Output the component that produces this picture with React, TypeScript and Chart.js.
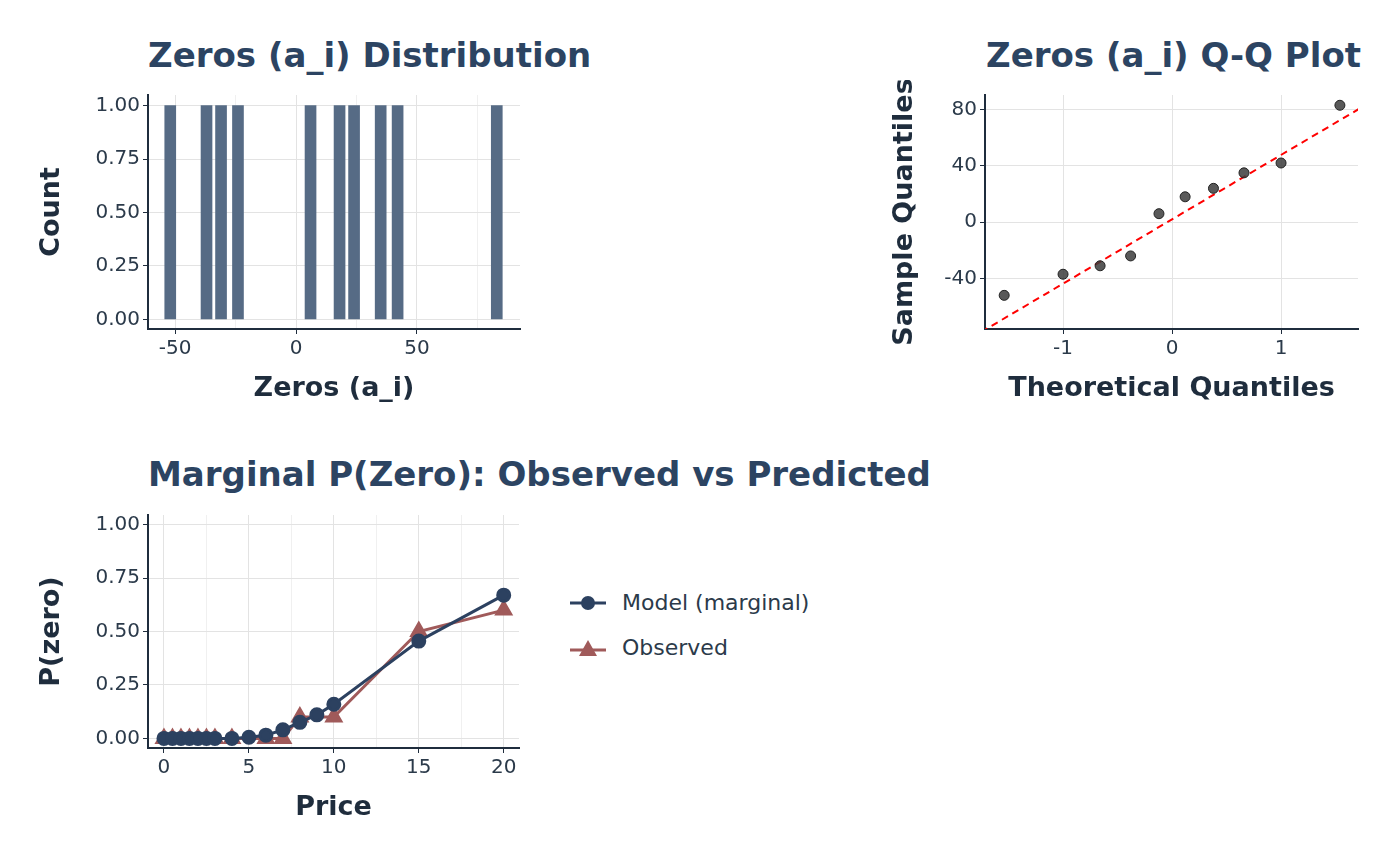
import React, { useEffect, useRef } from "react";
import { Chart, registerables } from "chart.js";
Chart.register(...registerables);

const zeros = [-52, -37, -31, -24, 6, 18, 24, 35, 42, 83];
const counts = [1, 1, 1, 1, 1, 1, 1, 1, 1, 1];
const theoretical = [-1.54, -1.0, -0.66, -0.38, -0.12, 0.12, 0.38, 0.66, 1.0, 1.54];
const refLineX = [-1.75, 1.75];
const refLineY = [-78, 82];
const modelPrice = [0, 0.5, 1, 1.5, 2, 2.5, 3, 4, 5, 6, 7, 8, 9, 10, 15, 20];
const modelP = [0, 0, 0, 0, 0, 0, 0, 0, 0.005, 0.015, 0.04, 0.075, 0.11, 0.16, 0.455, 0.67];
const obsPrice = [0, 0.5, 1, 1.5, 2, 2.5, 3, 4, 6, 7, 8, 10, 15, 20];
const obsP = [0, 0, 0, 0, 0, 0, 0, 0, 0, 0, 0.1, 0.1, 0.5, 0.6];
const pTicks = [0, 0.25, 0.5, 0.75, 1];

const DARK = "#1f2d3d";
const GRID = "#e3e3e3";
const FONT = "DejaVu Sans";
const MODEL = "#2c4160";
const OBS = "#a05a5a";

function axis(min: number, max: number, ticks: number[], title: string, fmt: (v: number) => string, size: number, isX: boolean, labelled?: number[]) {
  return {
    type: "linear",
    min, max,
    offset: false,
    afterBuildTicks: (s: any) => { s.ticks = ticks.map((v) => ({ value: v })); },
    afterFit: (s: any) => { if (isX) s.height = size; else s.width = size; },
    border: { display: true, color: DARK, width: 2 },
    grid: {
      offset: false,
      color: (c: any) => (labelled && c.tick && !labelled.includes(c.tick.value) ? "#f0f0f0" : GRID),
      tickColor: (c: any) => (labelled && c.tick && !labelled.includes(c.tick.value) ? "rgba(0,0,0,0)" : DARK),
      tickLength: 5,
      lineWidth: 1,
    },
    ticks: {
      color: "#2b3a4a",
      font: { family: FONT, size: 20 },
      padding: 3,
      maxRotation: 0,
      autoSkip: false,
      callback: (v: any) => (labelled && !labelled.includes(v) ? "" : fmt(v)),
    },
    title: { display: true, text: title, color: DARK, font: { family: FONT, size: 27, weight: "bold" }, padding: { top: 0, bottom: 2 } },
  };
}

function useChart(ref: any, cfg: () => any) {
  useEffect(() => {
    const c = new Chart(ref.current, cfg());
    return () => c.destroy();
  }, []);
}

const base = { responsive: false, animation: false, plugins: { legend: { display: false }, tooltip: { enabled: false } } };

export default function App() {
  const r1 = useRef<HTMLCanvasElement>(null);
  const r2 = useRef<HTMLCanvasElement>(null);
  const r3 = useRef<HTMLCanvasElement>(null);

  useChart(r1, () => ({
    type: "bar",
    data: { datasets: [{ data: zeros.map((x, i) => ({ x, y: counts[i] })), backgroundColor: "#566b85", barThickness: 11 }] },
    options: {
      ...base,
      layout: { padding: { top: 8, right: 10 } },
      scales: {
        x: axis(-61.2, 92.6, [-50, -25, 0, 25, 50, 75], "Zeros (a_i)", (v) => String(v), 78, true, [-50, 0, 50]),
        y: axis(-0.045, 1.05, pTicks, "Count", (v) => v.toFixed(2), 112, false),
      },
    },
  }));

  useChart(r2, () => ({
    type: "scatter",
    data: {
      datasets: [
        { data: theoretical.map((x, i) => ({ x, y: zeros[i] })), pointRadius: 5, backgroundColor: "rgba(60,60,60,0.85)", borderColor: "#222", borderWidth: 1 },
        { type: "line", data: refLineX.map((x, i) => ({ x, y: refLineY[i] })), borderColor: "#ff0000", borderDash: [7, 5], borderWidth: 2, pointRadius: 0 },
      ],
    },
    options: {
      ...base,
      layout: { padding: { top: 8, right: 12 } },
      scales: {
        x: axis(-1.716, 1.706, [-1, 0, 1], "Theoretical Quantiles", (v) => String(v), 78, true),
        y: axis(-75.9, 90.3, [-40, 0, 40, 80], "Sample Quantiles", (v) => String(v), 96, false),
      },
    },
  }));

  useChart(r3, () => ({
    type: "line",
    data: {
      datasets: [
        { data: modelPrice.map((x, i) => ({ x, y: modelP[i] })), borderColor: MODEL, backgroundColor: MODEL, borderWidth: 3, pointRadius: 6, pointStyle: "circle" },
        { data: obsPrice.map((x, i) => ({ x, y: obsP[i] })), borderColor: OBS, backgroundColor: OBS, borderWidth: 3, pointRadius: 8, pointStyle: "triangle" },
      ],
    },
    options: {
      ...base,
      layout: { padding: { top: 8, right: 10 } },
      scales: {
        x: axis(-0.94, 20.9, [0, 2.5, 5, 7.5, 10, 12.5, 15, 17.5, 20], "Price", (v) => String(v), 78, true, [0, 5, 10, 15, 20]),
        y: axis(-0.045, 1.045, pTicks, "P(zero)", (v) => v.toFixed(2), 112, false),
      },
    },
  }));

  const title: React.CSSProperties = { position: "absolute", fontFamily: FONT, fontWeight: "bold", fontSize: 34, color: "#2c4462", whiteSpace: "nowrap", lineHeight: "40px" };
  const leg: React.CSSProperties = { position: "absolute", fontFamily: FONT, fontSize: 22, color: "#2b3a4a", display: "flex", alignItems: "center", gap: 14 };

  return (
    <div style={{ position: "fixed", left: 0, top: 0, width: 1400, height: 866, background: "#fff" }}>
      <div style={{ ...title, left: 148, top: 35 }}>Zeros (a_i) Distribution</div>
      <div style={{ ...title, left: 986, top: 35 }}>Zeros (a_i) Q-Q Plot</div>
      <div style={{ ...title, left: 148, top: 454 }}>Marginal P(Zero): Observed vs Predicted</div>
      <canvas ref={r1} width={494} height={327} style={{ position: "absolute", left: 36, top: 80 }} />
      <canvas ref={r2} width={481} height={327} style={{ position: "absolute", left: 889, top: 80 }} />
      <canvas ref={r3} width={494} height={326} style={{ position: "absolute", left: 36, top: 500 }} />
      <div style={{ ...leg, left: 568, top: 590 }}>
        <svg width={40} height={24}><line x1={2} y1={12} x2={38} y2={12} stroke={MODEL} strokeWidth={3} /><circle cx={20} cy={12} r={7} fill={MODEL} /></svg>
        Model (marginal)
      </div>
      <div style={{ ...leg, left: 568, top: 635 }}>
        <svg width={40} height={24}><line x1={2} y1={14} x2={38} y2={14} stroke={OBS} strokeWidth={3} /><polygon points="20,4 29,20 11,20" fill={OBS} /></svg>
        Observed
      </div>
    </div>
  );
}
